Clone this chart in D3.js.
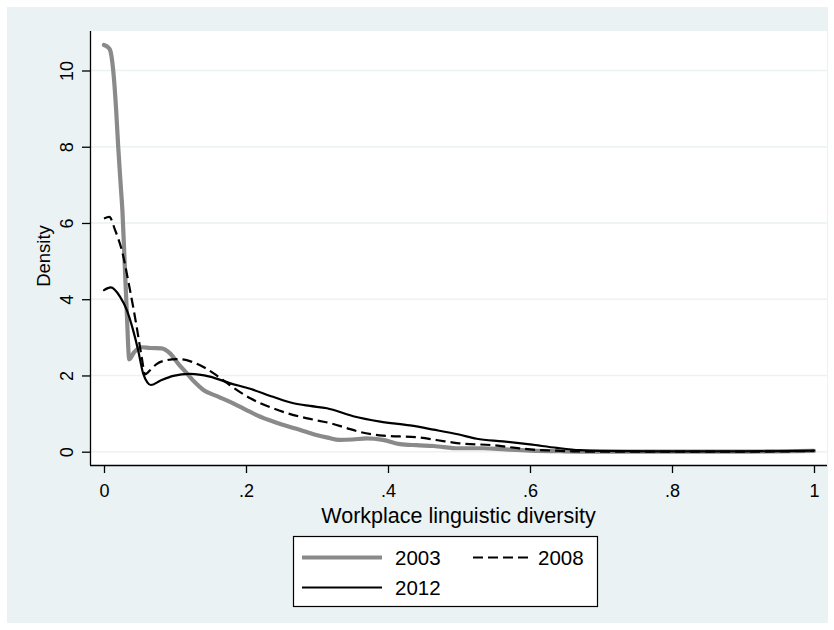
<!DOCTYPE html>
<html>
<head>
<meta charset="utf-8">
<script src="https://cdn.jsdelivr.net/npm/d3@7"></script>
<style>
  html, body { margin: 0; padding: 0; background: #ffffff; }
  svg { display: block; }
  text { font-family: "Liberation Sans", Arial, Helvetica, sans-serif; fill: #000; }
</style>
</head>
<body>
<svg id="chart" width="834" height="630"></svg>
<script>
// Kernel density estimates of workplace linguistic diversity, by survey year
const years = ["2003", "2008", "2012"];

const div2003 = [0, 0.005, 0.0085, 0.013, 0.017, 0.02, 0.0235, 0.026, 0.029, 0.032, 0.0356, 0.042, 0.053, 0.065, 0.081, 0.093, 0.105, 0.1165, 0.128, 0.14, 0.16, 0.182, 0.2, 0.215, 0.243, 0.271, 0.295, 0.315, 0.332, 0.35, 0.37, 0.393, 0.417, 0.44, 0.464, 0.5, 0.534, 0.565, 0.6, 0.65, 0.7, 0.8, 0.9, 0.95, 1];
const den2003 = [10.67, 10.62, 10.54, 10.0, 9.0, 8.0, 7.0, 6.3, 5.0, 3.7, 2.42, 2.6, 2.74, 2.72, 2.71, 2.58, 2.3, 2.06, 1.82, 1.62, 1.45, 1.27, 1.1, 0.96, 0.76, 0.6, 0.46, 0.37, 0.31, 0.32, 0.35, 0.31, 0.2, 0.17, 0.15, 0.09, 0.09, 0.06, 0.03, 0.01, 0.0, 0.0, 0.0, 0.01, 0.02];

const div2008 = [0, 0.0075, 0.0155, 0.025, 0.0366, 0.046, 0.053, 0.058, 0.064, 0.074, 0.088, 0.102, 0.115, 0.126, 0.14, 0.154, 0.177, 0.206, 0.238, 0.267, 0.29, 0.318, 0.34, 0.36, 0.393, 0.44, 0.47, 0.5, 0.548, 0.58, 0.6, 0.63, 0.66, 0.7, 0.8, 0.9, 1];
const den2008 = [6.12, 6.16, 5.82, 5.29, 4.24, 3.28, 2.49, 2.03, 2.12, 2.3, 2.4, 2.43, 2.41, 2.34, 2.22, 2.06, 1.75, 1.4, 1.14, 0.96, 0.86, 0.75, 0.63, 0.52, 0.42, 0.38, 0.3, 0.22, 0.17, 0.1, 0.06, 0.03, 0.01, 0.0, 0.0, 0.0, 0.02];

const div2012 = [0, 0.0094, 0.0225, 0.032, 0.041, 0.048, 0.055, 0.061, 0.066, 0.079, 0.0976, 0.121, 0.149, 0.177, 0.206, 0.238, 0.267, 0.29, 0.314, 0.351, 0.389, 0.431, 0.464, 0.5, 0.525, 0.562, 0.6, 0.638, 0.67, 0.7, 0.8, 0.9, 1];
const den2012 = [4.24, 4.31, 4.07, 3.72, 3.19, 2.67, 2.06, 1.82, 1.75, 1.86, 1.99, 2.04, 1.97, 1.8, 1.65, 1.44, 1.27, 1.2, 1.14, 0.93, 0.79, 0.69, 0.58, 0.45, 0.34, 0.27, 0.19, 0.1, 0.04, 0.02, 0.01, 0.01, 0.03];

const xTicks = [0, 0.2, 0.4, 0.6, 0.8, 1];
const xTickLabels = ["0", ".2", ".4", ".6", ".8", "1"];
const yTicks = [0, 2, 4, 6, 8, 10];
const yTickLabels = ["0", "2", "4", "6", "8", "10"];

const xTitle = "Workplace linguistic diversity";
const yTitle = "Density";

const series = [
  { name: years[0], x: div2003, y: den2003, color: "#8a8a8a", width: 4.2, dash: null },
  { name: years[1], x: div2008, y: den2008, color: "#000000", width: 2.2, dash: "10,5" },
  { name: years[2], x: div2012, y: den2012, color: "#000000", width: 2.2, dash: null }
];

const svg = d3.select("#chart");

// graph region
svg.append("rect").attr("x", 7).attr("y", 7).attr("width", 821).attr("height", 616)
  .attr("fill", "#eaf2f3");

// plot region
const plot = { left: 90, top: 31, right: 827, bottom: 465 };
svg.append("rect")
  .attr("x", plot.left).attr("y", plot.top)
  .attr("width", plot.right - plot.left).attr("height", plot.bottom - plot.top)
  .attr("fill", "#ffffff");

const x = d3.scaleLinear().domain([0, 1]).range([104, 814]);
const y = d3.scaleLinear().domain([0, 10]).range([451.7, 70.5]);

// horizontal grid lines
svg.append("g").selectAll("line").data(yTicks).join("line")
  .attr("x1", plot.left).attr("x2", plot.right)
  .attr("y1", d => y(d)).attr("y2", d => y(d))
  .attr("stroke", "#eaf2f3").attr("stroke-width", 1.6);

// density curves
svg.append("clipPath").attr("id", "plotclip").append("rect")
  .attr("x", plot.left).attr("y", plot.top)
  .attr("width", plot.right - plot.left).attr("height", plot.bottom - plot.top);

const line = d3.line().x(d => x(d[0])).y(d => y(d[1])).curve(d3.curveMonotoneX);
const curves = svg.append("g").attr("clip-path", "url(#plotclip)");
series.forEach(s => {
  const pts = s.x.map((v, i) => [v, s.y[i]]);
  curves.append("path").datum(pts)
    .attr("d", line)
    .attr("fill", "none")
    .attr("stroke", s.color)
    .attr("stroke-width", s.width)
    .attr("stroke-linejoin", "round")
    .attr("stroke-linecap", s.dash ? "butt" : "round")
    .attr("stroke-dasharray", s.dash);
});

// y axis
const yAxis = d3.axisLeft(y).tickValues(yTicks).tickSize(8).tickFormat((d, i) => yTickLabels[i]);
const gy = svg.append("g").attr("transform", `translate(${plot.left},0)`).call(yAxis);
gy.select(".domain").attr("d", `M0.5,${plot.top}V${plot.bottom}`).attr("stroke", "#000").attr("stroke-width", 1.3);
gy.selectAll(".tick line").attr("stroke", "#000").attr("stroke-width", 1.3);
gy.selectAll(".tick text")
  .attr("x", null).attr("dy", null)
  .attr("transform", "translate(-17,0) rotate(-90)")
  .attr("text-anchor", "middle")
  .attr("font-size", 18)
  .style("font-family", '"Liberation Sans", Arial, sans-serif');

// x axis
const xAxis = d3.axisBottom(x).tickValues(xTicks).tickSize(8).tickFormat((d, i) => xTickLabels[i]);
const gx = svg.append("g").attr("transform", `translate(0,${plot.bottom})`).call(xAxis);
gx.select(".domain").attr("d", `M${plot.left},0.5H${plot.right}`).attr("stroke", "#000").attr("stroke-width", 1.3);
gx.selectAll(".tick line").attr("stroke", "#000").attr("stroke-width", 1.3);
gx.selectAll(".tick text")
  .attr("y", 32).attr("dy", null)
  .attr("font-size", 18)
  .style("font-family", '"Liberation Sans", Arial, sans-serif');

// axis titles
const cx = (plot.left + plot.right) / 2;
svg.append("text").attr("x", cx).attr("y", 523)
  .attr("text-anchor", "middle").attr("font-size", 21.5).text(xTitle);
svg.append("text")
  .attr("transform", `translate(50,256) rotate(-90)`)
  .attr("text-anchor", "middle").attr("font-size", 18.5).text(yTitle);

// legend
const lg = svg.append("g");
const box = { x: 293.5, y: 536.5, w: 304, h: 70 };
lg.append("rect").attr("x", box.x).attr("y", box.y).attr("width", box.w).attr("height", box.h)
  .attr("fill", "#ffffff").attr("stroke", "#000").attr("stroke-width", 1.2);

const keys = [
  { s: series[0], lx: 302, len: 80, ly: 557.5, tx: 395 },
  { s: series[1], lx: 473, len: 55, ly: 557.5, tx: 538 },
  { s: series[2], lx: 302, len: 80, ly: 587.5, tx: 395 }
];
keys.forEach(k => {
  lg.append("line")
    .attr("x1", k.lx).attr("x2", k.lx + k.len)
    .attr("y1", k.ly).attr("y2", k.ly)
    .attr("stroke", k.s.color).attr("stroke-width", k.s.width)
    .attr("stroke-dasharray", k.s.dash);
  lg.append("text").attr("x", k.tx).attr("y", k.ly + 7.5)
    .attr("font-size", 20.5).text(k.s.name);
});
</script>
</body>
</html>
